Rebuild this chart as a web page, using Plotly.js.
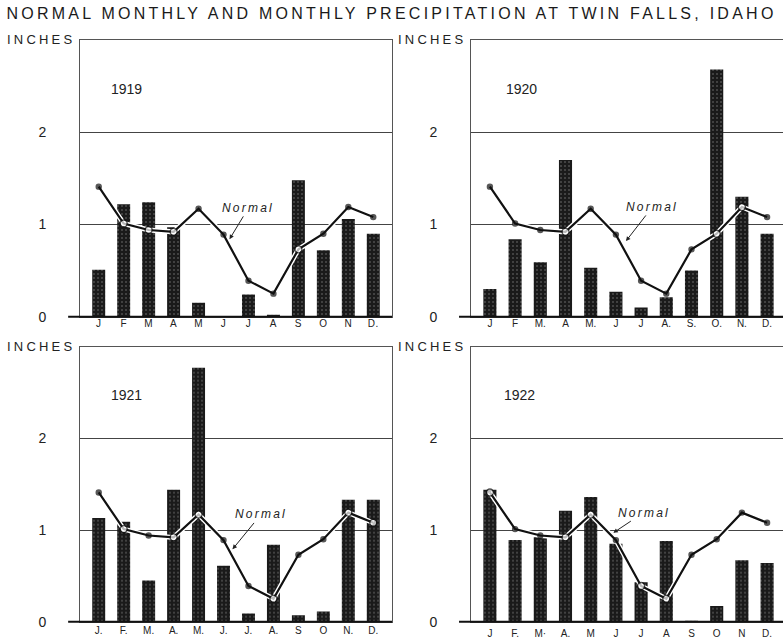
<!DOCTYPE html>
<html>
<head>
<meta charset="utf-8">
<script src="https://cdn.plot.ly/plotly-3.0.1.min.js"></script>
<style>
html, body { margin: 0; padding: 0; overflow: hidden; background: #fff; }
#chart { width: 800px; height: 641px; }
.gtitle { letter-spacing: 3.25px; }
text[data-unformatted="INCHES"] { letter-spacing: 3.2px; }
text[data-unformatted="<i>Normal</i>"] { letter-spacing: 2.2px; }
.xtick text { letter-spacing: 0.5px; }
</style>
</head>
<body>
<div id="chart"></div>
<script>
// ---- data ----
const months = ['Jan','Feb','Mar','Apr','May','Jun','Jul','Aug','Sep','Oct','Nov','Dec'];
const normal = [1.41, 1.01, 0.94, 0.92, 1.17, 0.89, 0.39, 0.25, 0.73, 0.90, 1.19, 1.08];
const p1919 = [0.51, 1.22, 1.24, 0.97, 0.15, 0.00, 0.24, 0.02, 1.48, 0.72, 1.06, 0.90];
const p1920 = [0.30, 0.84, 0.59, 1.70, 0.53, 0.27, 0.10, 0.21, 0.50, 2.68, 1.30, 0.90];
const p1921 = [1.13, 1.09, 0.45, 1.44, 2.77, 0.61, 0.09, 0.84, 0.07, 0.11, 1.33, 1.33];
const p1922 = [1.44, 0.89, 0.92, 1.21, 1.36, 0.85, 0.43, 0.88, 0.01, 0.17, 0.67, 0.64];
const ticks1919 = ['J','F','M','A','M','J','J','A','S','O','N','D.'];
const ticks1920 = ['J','F','M.','A','M.','J','J','A.','S.','O.','N.','D.'];
const ticks1921 = ['J.','F.','M.','A.','M.','J.','J.','A.','S','O','N.','D.'];
const ticks1922 = ['J','F.','M·','A.','M','J','J','A','S','O','N','D.'];
const years = ['1919','1920','1921','1922'];
const yTicks = [0, 1, 2];
const yTickText = ['0', '1', '2'];
const titleText = 'NORMAL MONTHLY AND MONTHLY PRECIPITATION AT TWIN FALLS, IDAHO';
const unitLabel = 'INCHES';
const normalLabel = 'Normal';

// ---- layout per panel ----
const W = 800, H = 641;
const panels = [
  {xa:'x',  ya:'y',  vals:p1919, ticks:ticks1919, year:years[0], dx:[80,392],  dy:[40,316.7],  yearX:0.40, txt:[6.0,1.18], tip:[5.24,0.84], xstand:-3},
  {xa:'x2', ya:'y2', vals:p1920, ticks:ticks1920, year:years[1], dx:[471,786], dy:[40,316.7],  yearX:0.55, txt:[6.45,1.19], tip:[5.4,0.82], xstand:-3},
  {xa:'x3', ya:'y3', vals:p1921, ticks:ticks1921, year:years[2], dx:[80,392],  dy:[346.7,621.7], yearX:0.42, txt:[6.5,1.17], tip:[5.36,0.79], xstand:-1},
  {xa:'x4', ya:'y4', vals:p1922, ticks:ticks1922, year:years[3], dx:[471,786], dy:[346.7,621.7], yearX:0.47, txt:[6.1,1.19], tip:[4.9,0.97], xstand:2}
];

const font = 'Liberation Sans, Arial, sans-serif';
const traces = [];
const layout = {
  width: W, height: H,
  margin: {l:0, r:0, t:0, b:0},
  paper_bgcolor: '#ffffff', plot_bgcolor: '#ffffff',
  showlegend: false, hovermode: false,
  font: {family: font, color: '#222'},
  title: {text: titleText, font: {family: font, size: 16, color: '#1a1a1a'},
          xref: 'container', yref: 'container', x: 391.5 / W, y: 1 - 13 / H,
          xanchor: 'center', yanchor: 'middle'},
  annotations: [], shapes: []
};

panels.forEach(function(p, i) {
  const sfx = i === 0 ? '' : String(i + 1);
  // bars
  traces.push({
    type: 'bar', x: months, y: p.vals, xaxis: p.xa, yaxis: p.ya, width: 0.52,
    marker: {color: '#1f1f1f', line: {width: 0},
             pattern: {shape: '.', fgcolor: '#4e4e4e', bgcolor: '#1a1a1a', size: 4, solidity: 0.2}}
  });
  // halo under normal line
  traces.push({
    type: 'scatter', mode: 'lines', x: months, y: normal, xaxis: p.xa, yaxis: p.ya,
    line: {color: '#ffffff', width: 5}
  });
  const mColors = normal.map(function(n, k) { return p.vals[k] >= n ? '#ffffff' : '#111111'; });
  const mSizes = normal.map(function(n, k) { return p.vals[k] >= n ? 7 : 5; });
  traces.push({
    type: 'scatter', mode: 'lines+markers', x: months, y: normal, xaxis: p.xa, yaxis: p.ya,
    line: {color: '#111111', width: 2.2},
    marker: {color: mColors, size: mSizes, line: {color: '#111111', width: 1.4}}
  });

  layout['xaxis' + sfx] = {
    domain: [p.dx[0] / W, p.dx[1] / W], anchor: 'y' + sfx,
    type: 'category', categoryorder: 'array', categoryarray: months,
    range: [-0.75, 11.75], fixedrange: true,
    tickmode: 'array', tickvals: months, ticktext: p.ticks,
    ticks: '', ticklabelstandoff: p.xstand,
    tickfont: {family: font, size: 10, color: '#222'},
    showline: true, mirror: true, linecolor: '#555', linewidth: 1,
    showgrid: false, zeroline: false
  };
  layout['yaxis' + sfx] = {
    domain: [1 - p.dy[1] / H, 1 - p.dy[0] / H], anchor: 'x' + sfx,
    range: [0, 3], fixedrange: true,
    tickmode: 'array', tickvals: yTicks, ticktext: yTickText,
    ticks: '', ticklabelstandoff: 30,
    tickfont: {family: font, size: 14, color: '#222'},
    showline: true, mirror: true, linecolor: '#555', linewidth: 1,
    showgrid: true, gridcolor: '#444', gridwidth: 1, zeroline: false
  };
  // thick base line, extending left of the frame
  layout.shapes.push({
    type: 'line', xref: p.xa + ' domain', yref: p.ya + ' domain',
    x0: -0.038, x1: 1, y0: 0, y1: 0, line: {color: '#111', width: 2}
  });
  // INCHES label
  layout.annotations.push({
    text: unitLabel, xref: p.xa + ' domain', yref: p.ya + ' domain',
    x: 0, y: 1, xanchor: 'right', yanchor: 'middle', xshift: -3, showarrow: false,
    font: {family: font, size: 13, color: '#222'}
  });
  // year label
  layout.annotations.push({
    text: p.year, xref: p.xa, yref: p.ya, x: p.yearX, y: 2.47,
    xanchor: 'left', yanchor: 'middle', showarrow: false,
    font: {family: font, size: 14, color: '#222'}
  });
  // Normal label with arrow
  layout.annotations.push({
    text: '<i>' + normalLabel + '</i>', xref: p.xa, yref: p.ya,
    x: p.tip[0], y: p.tip[1], axref: p.xa, ayref: p.ya, ax: p.txt[0], ay: p.txt[1],
    showarrow: true, arrowhead: 2, arrowsize: 0.9, arrowwidth: 1, arrowcolor: '#222',
    standoff: 0, startstandoff: 0,
    font: {family: font, size: 12, color: '#222'}
  });
});

Plotly.newPlot('chart', traces, layout, {staticPlot: true, displayModeBar: false});
</script>
</body>
</html>
